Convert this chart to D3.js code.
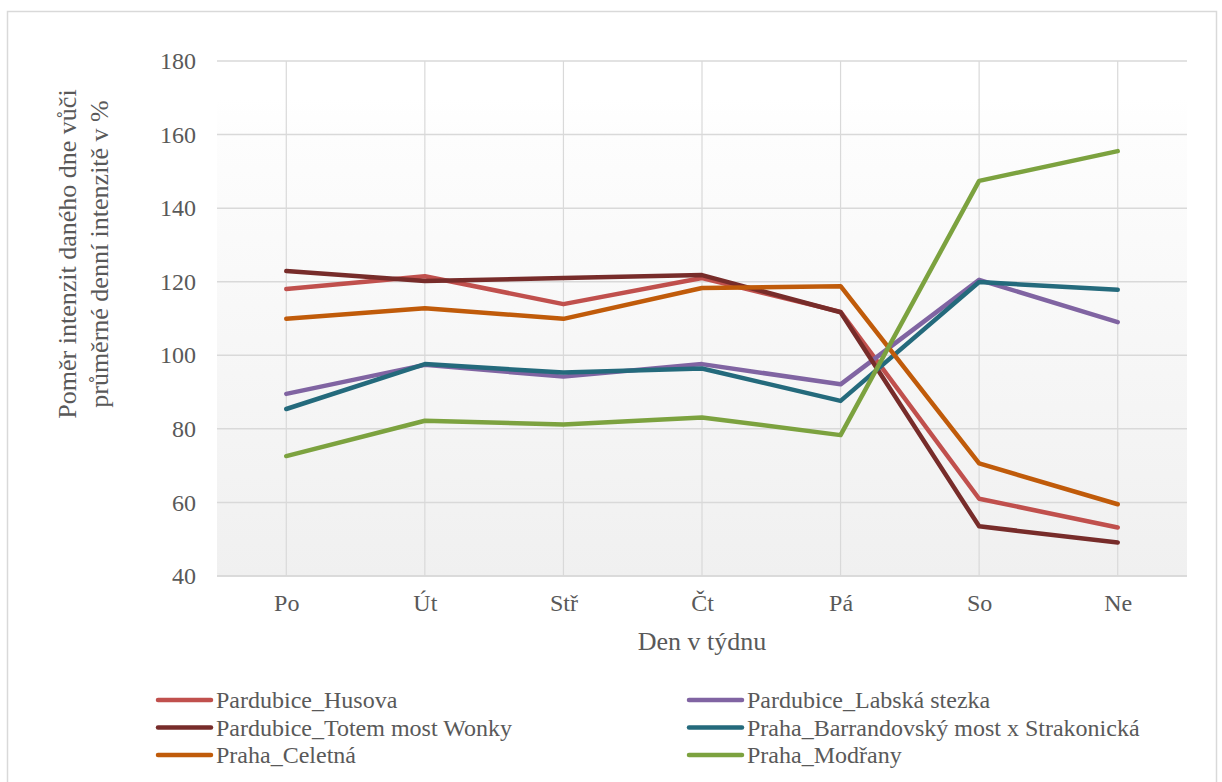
<!DOCTYPE html>
<html>
<head>
<meta charset="utf-8">
<script src="https://cdn.jsdelivr.net/npm/d3@7"></script>
<style>
  html, body { margin: 0; padding: 0; background: #ffffff; }
  svg { display: block; }
  text { font-family: "Liberation Serif", "Times New Roman", serif; fill: #595959; }
</style>
</head>
<body>
<svg id="chart" width="1222" height="782"></svg>
<script>
// Days of the week
const days = ["Po", "Út", "Stř", "Čt", "Pá", "So", "Ne"];

// Ratio of the day's intensity to the average daily intensity, in %
const husova      = [118.0, 121.5, 113.9, 121.0, 111.8, 61.0, 53.2];
const labska      = [89.5, 97.4, 94.2, 97.6, 92.1, 120.5, 109.0];
const totem       = [122.9, 120.2, 121.0, 121.8, 111.7, 53.5, 49.1];
const barrandov   = [85.4, 97.6, 95.3, 96.4, 87.6, 119.9, 117.8];
const celetna     = [109.9, 112.8, 109.9, 118.3, 118.8, 70.6, 59.5];
const modrany     = [72.6, 82.2, 81.2, 83.1, 78.3, 147.4, 155.5];

const seriesNames = [
  "Pardubice_Husova",
  "Pardubice_Labská stezka",
  "Pardubice_Totem most Wonky",
  "Praha_Barrandovský most x Strakonická",
  "Praha_Celetná",
  "Praha_Modřany"
];
const seriesValues = [husova, labska, totem, barrandov, celetna, modrany];
const seriesColors = ["#c0504d", "#8064a2", "#772c2a", "#246a7c", "#c05b0a", "#7ca23f"];

const yTicks = [40, 60, 80, 100, 120, 140, 160, 180];

const svg = d3.select("#chart");

// outer chart frame
svg.append("rect")
  .attr("x", 7.5).attr("y", 11.5)
  .attr("width", 1209).attr("height", 790)
  .attr("fill", "#ffffff")
  .attr("stroke", "#d9d9d9")
  .attr("stroke-width", 1.5);

const plot = { left: 217, right: 1187, top: 61, bottom: 576 };

const x = d3.scalePoint()
  .domain(days)
  .range([plot.left, plot.right])
  .padding(0.5);

const y = d3.scaleLinear()
  .domain([40, 180])
  .range([plot.bottom, plot.top]);

// plot-area fill
const defs = svg.append("defs");
const grad = defs.append("linearGradient")
  .attr("id", "plotFill")
  .attr("x1", 0).attr("y1", 0).attr("x2", 0).attr("y2", 1);
grad.append("stop").attr("offset", "0%").attr("stop-color", "#ffffff");
grad.append("stop").attr("offset", "8%").attr("stop-color", "#fdfdfd");
grad.append("stop").attr("offset", "100%").attr("stop-color", "#f0f0f0");

svg.append("rect")
  .attr("x", plot.left).attr("y", y(170))
  .attr("width", plot.right - plot.left)
  .attr("height", plot.bottom - y(170))
  .attr("fill", "url(#plotFill)");

// horizontal gridlines
svg.append("g")
  .selectAll("line")
  .data(yTicks)
  .join("line")
  .attr("x1", plot.left).attr("x2", plot.right)
  .attr("y1", d => y(d)).attr("y2", d => y(d))
  .attr("stroke", "#d9d9d9")
  .attr("stroke-width", 1.5);

// vertical gridlines at each day
svg.append("g")
  .selectAll("line")
  .data(days)
  .join("line")
  .attr("x1", d => x(d)).attr("x2", d => x(d))
  .attr("y1", plot.top).attr("y2", plot.bottom)
  .attr("stroke", "#d9d9d9")
  .attr("stroke-width", 1.2);

// y axis labels
const yAxis = d3.axisLeft(y).tickValues(yTicks).tickSize(0).tickPadding(21);
const gy = svg.append("g")
  .attr("transform", `translate(${plot.left},0)`)
  .call(yAxis);
gy.select(".domain").remove();
gy.attr("font-family", null);
gy.selectAll("text")
  .attr("font-size", 24)
  .attr("fill", "#595959");

// x axis labels
const xAxis = d3.axisBottom(x).tickSize(0).tickPadding(18);
const gx = svg.append("g")
  .attr("transform", `translate(0,${plot.bottom})`)
  .call(xAxis);
gx.select(".domain").remove();
gx.attr("font-family", null);
gx.selectAll("text")
  .attr("font-size", 24)
  .attr("fill", "#595959");

// bottom axis line
svg.append("line")
  .attr("x1", plot.left).attr("x2", plot.right)
  .attr("y1", plot.bottom).attr("y2", plot.bottom)
  .attr("stroke", "#d9d9d9")
  .attr("stroke-width", 1.5);

// axis titles
svg.append("text")
  .attr("x", (plot.left + plot.right) / 2)
  .attr("y", 650)
  .attr("text-anchor", "middle")
  .attr("font-size", 26)
  .text("Den v týdnu");

const yTitle = svg.append("text")
  .attr("transform", "translate(76,254) rotate(-90)")
  .attr("text-anchor", "middle")
  .attr("font-size", 26);
yTitle.append("tspan").attr("x", 0).attr("dy", 0).text("Poměr intenzit daného dne vůči");
yTitle.append("tspan").attr("x", 0).attr("dy", 32).text("průměrné denní intenzitě v %");

// series lines
const line = d3.line()
  .x((d, i) => x(days[i]))
  .y(d => y(d));

svg.append("g")
  .selectAll("path")
  .data(seriesValues)
  .join("path")
  .attr("d", d => line(d))
  .attr("fill", "none")
  .attr("stroke", (d, i) => seriesColors[i])
  .attr("stroke-width", 4.5)
  .attr("stroke-linejoin", "round")
  .attr("stroke-linecap", "round");

// legend: two columns, three rows
const legend = svg.append("g");
const legendCols = [158, 689];
const legendRows = [700, 727.5, 755];
seriesNames.forEach((name, i) => {
  const cx = legendCols[i % 2];
  const cy = legendRows[Math.floor(i / 2)];
  legend.append("line")
    .attr("x1", cx).attr("x2", cx + 53)
    .attr("y1", cy).attr("y2", cy)
    .attr("stroke", seriesColors[i])
    .attr("stroke-width", 4.5)
    .attr("stroke-linecap", "round");
  legend.append("text")
    .attr("x", cx + 58)
    .attr("y", cy + 8)
    .attr("font-size", 24)
    .text(name);
});
</script>
</body>
</html>
